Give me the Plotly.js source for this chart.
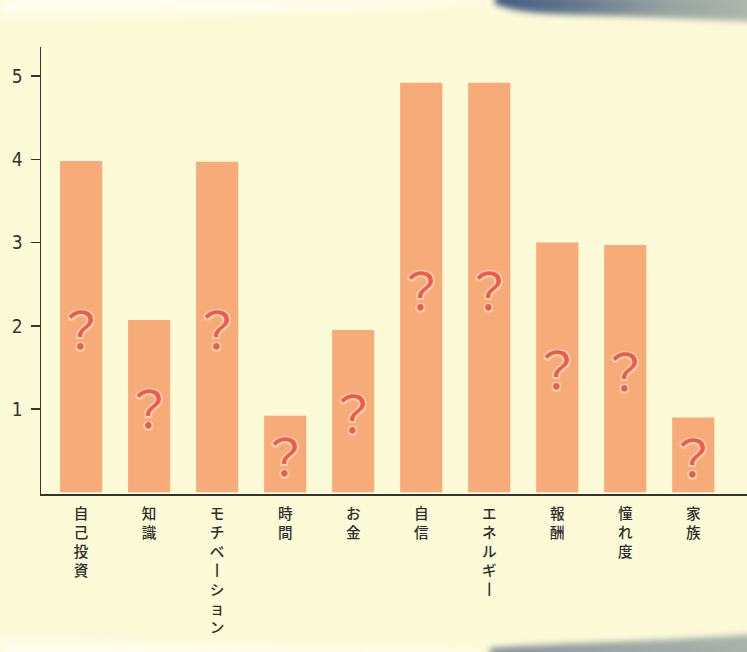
<!DOCTYPE html>
<html>
<head>
<meta charset="utf-8">
<script src="https://cdn.plot.ly/plotly-3.0.1.min.js"></script>
<style>
  html, body { margin: 0; padding: 0; width: 747px; height: 652px; overflow: hidden; background: #fdfad7; }
  #bg { position: absolute; left: 0; top: 0; width: 747px; height: 652px; }
  #chart { position: absolute; left: 0; top: 0; width: 747px; height: 652px; }
</style>
</head>
<body>
<svg id="bg" width="747" height="652" xmlns="http://www.w3.org/2000/svg">
  <defs>
    <filter id="blur" x="-20%" y="-50%" width="140%" height="200%"><feGaussianBlur stdDeviation="3"/></filter>
    <filter id="blur2" x="-20%" y="-50%" width="140%" height="200%"><feGaussianBlur stdDeviation="6"/></filter>
    <linearGradient id="topBrush" x1="0" y1="0" x2="1" y2="0">
      <stop offset="0" stop-color="#2b4879"/>
      <stop offset="0.3" stop-color="#556a86"/>
      <stop offset="0.65" stop-color="#8c9c9c"/>
      <stop offset="1" stop-color="#a8b2aa"/>
    </linearGradient>
    <linearGradient id="botBrush" x1="0" y1="0" x2="1" y2="0">
      <stop offset="0" stop-color="#64788a"/>
      <stop offset="0.5" stop-color="#849299"/>
      <stop offset="1" stop-color="#95a19f"/>
    </linearGradient>
    <linearGradient id="topWhite" x1="0" y1="0" x2="0" y2="1">
      <stop offset="0" stop-color="#ffffff" stop-opacity="0.9"/>
      <stop offset="1" stop-color="#ffffff" stop-opacity="0"/>
    </linearGradient>
  </defs>
  <rect x="0" y="0" width="747" height="652" fill="#fdfad7"/>
  <path d="M0,0 L520,0 C420,8 200,14 0,24 Z" fill="url(#topWhite)" filter="url(#blur2)"/>
  <path d="M495,-6 L760,-6 L760,22 C700,20 640,16 580,15 C540,14 515,12 495,4 Z" fill="url(#topBrush)" filter="url(#blur)" opacity="0.9"/>
  <path d="M0,640 C150,644 300,648 480,650 L480,660 L0,660 Z" fill="#ffffff" opacity="0.6" filter="url(#blur2)"/>
  <path d="M490,660 L490,648 C560,643 650,642 760,634 L760,660 Z" fill="url(#botBrush)" filter="url(#blur)" opacity="0.8"/>
</svg>
<div id="chart"></div>
<script>
const categories = ['自己投資', '知識', 'モチベーション', '時間', 'お金', '自信', 'エネルギー', '報酬', '憧れ度', '家族'];
const values = [3.98, 2.07, 3.97, 0.92, 1.95, 4.92, 4.92, 3.0, 2.97, 0.9];
const yTicks = [1, 2, 3, 4, 5];
const markText = '？';

const xIdx = categories.map((c, i) => i);
const verticalLabels = categories.map(c => Array.from(c).map(ch => ch === 'ー' ? '丨' : ch).join('<br>'));

const trace = {
  type: 'bar',
  x: xIdx,
  y: values,
  width: 0.62,
  marker: { color: '#f6ab78', line: { width: 0 } },
  hoverinfo: 'skip'
};

const outline = '#fbcfae';
const annotations = values.map((v, i) => ({
  x: i, y: v / 2, xref: 'x', yref: 'y',
  text: markText, showarrow: false,
  xanchor: 'center', yanchor: 'middle',
  font: {
    family: 'Noto Sans CJK JP', size: 50, color: '#ee5b48', weight: 400,
    shadow: `1.5px 1.5px 0 ${outline}, -1.5px -1.5px 0 ${outline}, 1.5px -1.5px 0 ${outline}, -1.5px 1.5px 0 ${outline}, 0 1.5px 0 ${outline}, 0 -1.5px 0 ${outline}, 1.5px 0 0 ${outline}, -1.5px 0 0 ${outline}`
  }
}));

const layout = {
  width: 747, height: 652,
  margin: { l: 41, r: 0, t: 47, b: 158, pad: 0 },
  paper_bgcolor: 'rgba(0,0,0,0)',
  plot_bgcolor: 'rgba(0,0,0,0)',
  showlegend: false,
  font: { family: 'Noto Sans CJK JP', color: '#333333' },
  xaxis: {
    range: [-0.59, 9.79],
    tickmode: 'array', tickvals: xIdx, ticktext: verticalLabels,
    tickangle: 0, ticks: '', showgrid: false, zeroline: false,
    showline: true, linecolor: '#333333', linewidth: 1.5,
    tickfont: { family: 'Noto Sans CJK JP', size: 14.6, color: '#2e2e2e', weight: 500 },
    ticklabelstandoff: 6,
    fixedrange: true
  },
  yaxis: {
    range: [-0.02, 5.35],
    tickmode: 'array', tickvals: yTicks, ticktext: yTicks.map(String),
    ticks: 'outside', ticklen: 9, tickwidth: 1.5, tickcolor: '#333333',
    showgrid: false, zeroline: false,
    showline: true, linecolor: '#333333', linewidth: 1.5,
    tickfont: { family: 'Liberation Sans Narrow, DejaVu Sans Condensed, sans-serif', size: 19, color: '#333333' },
    ticklabelstandoff: 4,
    fixedrange: true
  },
  annotations: annotations
};

Plotly.newPlot('chart', [trace], layout, { displayModeBar: false, staticPlot: true });
</script>
</body>
</html>
